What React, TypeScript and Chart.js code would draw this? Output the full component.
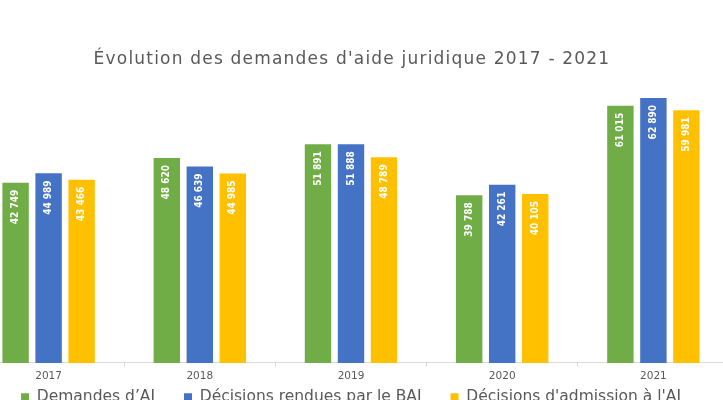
import React, { useEffect, useRef } from "react";
import { Chart, registerables } from "chart.js";

Chart.register(...registerables);

const years = ["2017", "2018", "2019", "2020", "2021"];
const demandesAJ = [42749, 48620, 51891, 39788, 61015];
const decisionsRendues = [44989, 46639, 51888, 42261, 62890];
const decisionsAdmission = [43466, 44985, 48789, 40105, 59981];
const seriesLabels = ["Demandes d’AJ", "Décisions rendues par le BAJ", "Décisions d'admission à l'AJ"];
const seriesColors = ["#70AD47", "#4472C4", "#FFC000"];
const chartTitle = "Évolution des demandes d'aide juridique 2017 - 2021";
const yMin = 0;
const yMax = 70000;

const TEXT = "#595959";

const fmt = (v: number) => String(v).replace(/\B(?=(\d{3})+(?!\d))/g, " ");

const titlePlugin = {
  id: "customTitle",
  afterDraw(chart: any) {
    const ctx = chart.ctx;
    ctx.save();
    ctx.font = "17px 'DejaVu Sans'";
    (ctx as any).letterSpacing = "1.2px";
    ctx.fillStyle = TEXT;
    ctx.textAlign = "center";
    ctx.textBaseline = "alphabetic";
    ctx.fillText(chartTitle, chart.width / 2 + 1, 64);
    ctx.restore();
  },
};

const legendShift = {
  id: "legendShift",
  afterLayout(chart: any) {
    const l = chart.legend;
    if (l) {
      l.top -= 25;
      l.bottom -= 25;
    }
  },
};

const valueLabels = {
  id: "valueLabels",
  afterDatasetsDraw(chart: any) {
    const ctx = chart.ctx;
    ctx.save();
    ctx.fillStyle = "#FFFFFF";
    ctx.font = "bold 10px 'DejaVu Sans Condensed', sans-serif";
    ctx.textAlign = "right";
    ctx.textBaseline = "middle";
    chart.data.datasets.forEach((ds: any, i: number) => {
      const meta = chart.getDatasetMeta(i);
      meta.data.forEach((bar: any, j: number) => {
        const txt = fmt(ds.data[j]);
        ctx.save();
        ctx.translate(bar.x, bar.y + 7);
        ctx.rotate(-Math.PI / 2);
        ctx.fillText(txt, 0, 0);
        ctx.restore();
      });
    });
    ctx.restore();
  },
};

export default function App() {
  const ref = useRef<HTMLCanvasElement | null>(null);
  useEffect(() => {
    if (!ref.current) return;
    const chart = new Chart(ref.current, {
      type: "bar",
      data: {
        labels: years,
        datasets: [
          { label: seriesLabels[0], data: demandesAJ, backgroundColor: seriesColors[0] },
          { label: seriesLabels[1], data: decisionsRendues, backgroundColor: seriesColors[1] },
          { label: seriesLabels[2], data: decisionsAdmission, backgroundColor: seriesColors[2] },
        ],
      },
      options: {
        animation: false,
        responsive: true,
        maintainAspectRatio: false,
        layout: { padding: { top: 68, left: 0, right: 0, bottom: 0 } },
        datasets: { bar: { categoryPercentage: 0.655, barPercentage: 0.8 } },
        scales: {
          x: {
            grid: { display: true, drawOnChartArea: false, drawTicks: true, tickLength: 4, color: "#D9D9D9" },
            border: { display: true, color: "#D9D9D9" },
            ticks: { color: TEXT, font: { family: "'DejaVu Sans'", size: 10.5 }, padding: 3 },
          },
          y: { display: false, min: yMin, max: yMax },
        },
        plugins: {
          title: { display: false },
          tooltip: { enabled: false },
          legend: {
            position: "bottom",
            labels: {
              boxWidth: 8,
              boxHeight: 8,
              padding: 29,
              color: TEXT,
              font: { family: "'DejaVu Sans'", size: 15.5 },
            },
          },
        },
      },
      plugins: [legendShift, valueLabels, titlePlugin],
    });
    return () => chart.destroy();
  }, []);

  return (
    <div style={{ position: "fixed", left: 0, top: 0, width: 723, height: 400, overflow: "hidden", background: "#fff" }}>
      <div style={{ position: "absolute", left: -27, top: 0, width: 756, height: 440 }}>
        <canvas ref={ref} />
      </div>
    </div>
  );
}
